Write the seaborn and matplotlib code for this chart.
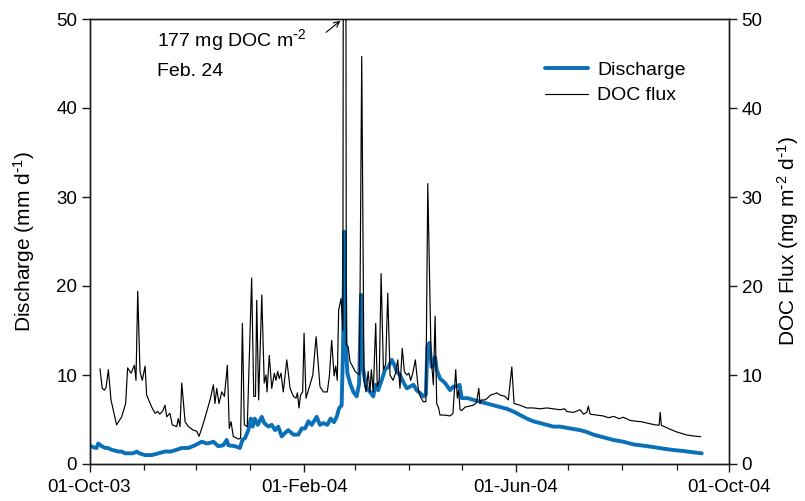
import numpy as np
import pandas as pd
import matplotlib
matplotlib.use("Agg")
import matplotlib.pyplot as plt
import matplotlib.dates as mdates
import seaborn as sns

# ---- data (days since 01-Oct-2003) ----
START = "2003-10-01"

q_days = [0, 2, 4, 5, 7, 9, 10.5, 12.7, 14.5, 16.5, 18.5, 20.3, 23, 25, 27, 28.5,
          31.8, 35.6, 39.4, 43.2, 46.5, 49.9, 52.8, 56.6, 60.4, 64.2, 67.5, 70.9,
          73.7, 76.5, 78.5, 79.5, 83.3, 86.1, 87.5, 89, 90.9, 92.3, 93.4, 94.6,
          96.3, 98.6, 100, 102.4, 104.3, 106.2, 108, 110, 112, 113.8, 116.7,
          119.5, 121.5, 123.4, 125.3, 127.2, 130, 131.9, 133.8, 136.1, 138,
          139.9, 141.5, 142.8, 144.3, 145.1, 145.9, 146.6, 147.6, 149.1, 151,
          152.9, 154.3, 155.4, 156.4, 158.3, 160.5, 162.4, 163.7, 165.2, 167.2,
          169.1, 171, 173, 174.3, 175.8, 177.7, 179.6, 181.6, 183.5, 185.4,
          187.2, 189, 191.1, 192.5, 193.4, 194.5, 195.8, 197.8, 198.7, 200.6,
          203.5, 206.4, 208.3, 210.5, 211.8, 213, 216.5, 219.7, 223.5, 227.4,
          231, 235, 238.8, 242.6, 246.4, 250.3, 254, 257.9, 261.7, 265.5, 269.3,
          275, 280.8, 284.6, 288.4, 294.1, 299.8, 305.6, 311.3, 317, 322.8,
          328.5, 334.2, 339.9, 345.6, 350.4]
q_vals = [2.1, 1.9, 1.8, 2.3, 2.0, 1.8, 1.8, 1.6, 1.5, 1.4, 1.4, 1.2, 1.2, 1.2, 1.4, 1.2,
          1.0, 1.0, 1.2, 1.4, 1.4, 1.6, 1.8, 1.8, 2.1, 2.5, 2.3, 2.5,
          2.0, 2.1, 2.7, 2.1, 2.0, 1.8, 2.7, 2.9, 3.8, 5.1, 4.2, 5.1,
          4.4, 5.3, 4.6, 4.2, 4.4, 3.8, 4.2, 3.1, 3.5, 3.8, 3.3,
          3.3, 4.0, 4.0, 4.8, 4.4, 5.3, 4.4, 4.6, 4.4, 5.1,
          4.7, 5.3, 6.25, 6.6, 12.8, 26.1, 13.9, 10.2, 9.1, 8.1,
          7.6, 9.0, 19.0, 10.9, 8.7, 8.1, 7.6, 8.9, 8.3, 9.4,
          10.6, 10.9, 11.7, 11.2, 10.4, 10.0, 9.2, 8.5, 8.7, 8.9,
          8.3, 8.0, 7.6, 7.8, 13.2, 13.6, 10.9, 12.0, 10.6, 9.6,
          9.1, 8.3, 8.7, 8.7, 8.9, 7.4, 7.4, 7.2, 7.0, 6.8,
          6.6, 6.4, 6.2, 5.9, 5.5, 5.1, 4.8, 4.6, 4.4, 4.2, 4.2,
          4.0, 3.8, 3.6, 3.3, 3.0, 2.7, 2.5, 2.2, 2.06, 1.9,
          1.72, 1.57, 1.46, 1.31, 1.2]

doc_days = [6, 7.3, 8.5, 9.5, 10.8, 12.3, 15.5, 18.4, 20.7, 21.8, 23.8, 25.7, 26.6,
            27.6, 28.9, 30.2, 31.8, 32.7, 35.6, 37.5, 39, 40.3, 42, 43.2, 44.2, 46,
            47.4, 49.9, 50.8, 51.8, 52.8, 54.7, 56.6, 59.4, 61.3, 62.7, 65.2, 69,
            70.9, 71.8, 72.8, 74.1, 75.7, 77.2, 78.9, 80, 81, 82.3, 85.2, 86.5,
            87.5, 88.6, 90.3, 92.8, 94, 95, 95.7, 96.8, 98.6, 100, 101, 101.6,
            102.9, 104.3, 105.8, 106.7, 107.7, 108.6, 109.6, 110.9, 112.9, 114.8,
            116.7, 118.2, 119, 119.9, 120.8, 122, 122.8, 123.9, 126.2, 127.8,
            129.7, 131.9, 133.8, 136.1, 137.3, 138.6, 140, 140.9, 141.8, 142.6,
            144, 145, 146, 147, 148, 149.1, 150.5, 152, 153.3, 154.5, 155.8,
            157.1, 158.3, 159.5, 160.5, 161.3, 162.4, 163.8, 164.7, 165.8, 166.9,
            168.2, 169.5, 170.7, 172, 173.7, 175.2, 176.4, 177.7, 179, 180.2,
            181.6, 182.8, 183.8, 185, 186.5, 188.2, 189.3, 191, 192.5, 193.6,
            195.5, 196.8, 197.8, 198.7, 199.8, 200.6, 203, 206.4, 208, 209.6,
            210.5, 211.2, 212.1, 213, 215, 217.5, 219.7, 221.5, 222.8, 223.5,
            224.4, 226.4, 227.7, 229.6, 232.1, 233, 235, 237.8, 239.7, 241.7,
            243, 246.4, 250.3, 254, 257.9, 261.7, 265.5, 269.3, 272, 273.1, 277,
            280.8, 282.7, 284.6, 285.5, 286.5, 290.3, 294, 297, 300, 303, 305.6,
            309.4, 313, 316, 319, 323.7, 326, 326.6, 327.3, 332.3, 336.1, 341.8,
            345.6, 349.8]
doc_vals = [10.7, 8.5, 8.3, 8.6, 10.6, 7.2, 4.4, 5.3, 6.8, 10.8, 10.2, 11.1, 9.4,
            19.4, 10.4, 9.4, 11.0, 7.75, 6.4, 5.7, 5.9, 5.6, 6.0, 6.6, 5.3, 5.7,
            4.4, 4.2, 5.1, 4.2, 9.1, 4.75, 4.2, 3.8, 3.7, 3.1, 4.6, 7.2,
            8.9, 6.8, 8.5, 6.8, 8.1, 7.6, 11.1, 4.0, 4.75, 3.1, 2.8, 2.9,
            15.8, 4.4, 4.2, 20.9, 7.6, 7.6, 18.4, 7.2, 19.0, 9.1, 10.0, 8.1,
            12.2, 8.5, 10.2, 9.4, 10.4, 9.6, 10.2, 8.1, 11.7, 8.5,
            7.6, 7.4, 8.0, 6.3, 7.75, 8.1, 14.7, 7.4, 8.9, 10.0,
            14.3, 8.7, 8.1, 8.1, 9.9, 13.9, 9.9, 11.0, 9.4, 17.3,
            18.6, 15.0, 177.0, 13.4, 13.2, 11.5, 11.0, 10.4, 10.2, 10.0, 45.8,
            9.4, 8.1, 10.4, 8.1, 10.6, 8.1, 15.8, 8.7, 9.4, 21.4,
            10.6, 11.2, 19.2, 10.0, 9.4, 10.2, 11.7, 8.5, 13.0, 10.4,
            10.0, 10.2, 9.4, 10.2, 11.7, 8.3, 7.6, 7.0, 7.0, 31.5,
            12.0, 8.9, 16.6, 6.8, 6.3, 5.5, 5.5, 5.4, 5.7, 10.6,
            7.4, 8.3, 6.1, 6.0, 6.4, 6.5, 6.6, 6.9, 8.5, 6.8,
            7.2, 7.2, 7.4, 7.75, 7.9, 8.0, 7.75, 7.6, 7.2, 10.9,
            6.8, 6.6, 6.3, 6.3, 6.2, 6.3, 6.2, 6.1, 6.2, 5.9, 5.8,
            6.1, 5.6, 5.8, 6.5, 5.6, 5.5, 5.4, 5.2, 5.35, 5.1, 5.25,
            4.9, 4.8, 4.75, 4.6, 4.4, 4.35, 5.8, 4.35, 3.9, 3.6, 3.26,
            3.15, 3.07]

x_major = ["2003-10-01", "2004-02-01", "2004-06-01", "2004-10-01"]

# ---- frames ----
t0 = pd.Timestamp(START)
dq = pd.DataFrame({"date": t0 + pd.to_timedelta(q_days, unit="D"), "val": q_vals})
dd = pd.DataFrame({"date": t0 + pd.to_timedelta(doc_days, unit="D"), "val": doc_vals})

sns.set_style("ticks")
plt.rcParams["font.family"] = ["Liberation Sans", "DejaVu Sans"]
plt.rcParams["mathtext.default"] = "regular"
plt.rcParams["axes.edgecolor"] = "#1a1a1a"
plt.rcParams["text.color"] = "black"
plt.rcParams["axes.labelcolor"] = "black"
plt.rcParams["xtick.color"] = "#1a1a1a"
plt.rcParams["ytick.color"] = "#1a1a1a"
plt.rcParams["xtick.labelcolor"] = "black"
plt.rcParams["ytick.labelcolor"] = "black"

W, H = 805, 501
fig = plt.figure(figsize=(W / 100, H / 100), dpi=100)
L, R, T, B = 89.5, 729, 19, 464
ax = fig.add_axes([L / W, 1 - B / H, (R - L) / W, (B - T) / H])
ax2 = ax.twinx()

blue = "#0a70b8"
sns.lineplot(data=dq, x="date", y="val", ax=ax, color=blue, lw=2.8,
             label="Discharge", legend=False)
sns.lineplot(data=dd, x="date", y="val", ax=ax2, color="black", lw=0.85,
             label="DOC flux", legend=False)

xmin, xmax = pd.Timestamp(x_major[0]), pd.Timestamp(x_major[-1])
ax.set_xlim(xmin, xmax)
ax.set_ylim(0, 50)
ax2.set_ylim(0, 50)
ax.set_yticks(range(0, 51, 10))
ax2.set_yticks(range(0, 51, 10))
ax.set_xticks([pd.Timestamp(s) for s in x_major])
ax.xaxis.set_major_formatter(mdates.DateFormatter("%d-%b-%y"))
ax.xaxis.set_minor_locator(mdates.MonthLocator())

for a in (ax, ax2):
    a.tick_params(axis="both", which="major", direction="out", length=6,
                  width=1, labelsize=13.5, pad=3)
    a.tick_params(axis="x", which="major", pad=5)
    a.tick_params(axis="x", which="minor", direction="out", length=4, width=0.9)
    for s in a.spines.values():
        s.set_visible(True)
        s.set_linewidth(1.0)

ax.set_xlabel("")
ax.set_ylabel(r"Discharge (mm d$^{\text{-}1}$)", fontsize=15, labelpad=14)
ax2.set_ylabel(r"DOC Flux (mg m$^{\text{-}2}$ d$^{\text{-}1}$)", fontsize=15, labelpad=9)

# annotation
def d(day):
    return t0 + pd.Timedelta(days=day)

ax2.text(d(38.6), 46.9, r"177 mg DOC m$^{\text{-}2}$", fontsize=14, ha="left", va="baseline")
ax2.text(d(38.6), 43.6, "Feb. 24", fontsize=14, ha="left", va="baseline")
ax2.annotate("", xy=(d(143.6), 49.8), xytext=(d(135.4), 48.5),
             arrowprops=dict(arrowstyle="->", lw=0.8, color="black",
                             shrinkA=0, shrinkB=0))

h1, l1 = ax.get_legend_handles_labels()
h2, l2 = ax2.get_legend_handles_labels()
ax2.legend(h1 + h2, l1 + l2, loc="upper left", bbox_to_anchor=(0.70, 0.922),
           frameon=False, fontsize=14, handlelength=2.2, handletextpad=0.5,
           labelspacing=0.4, borderaxespad=0)

fig.savefig("out.png", dpi=100)
